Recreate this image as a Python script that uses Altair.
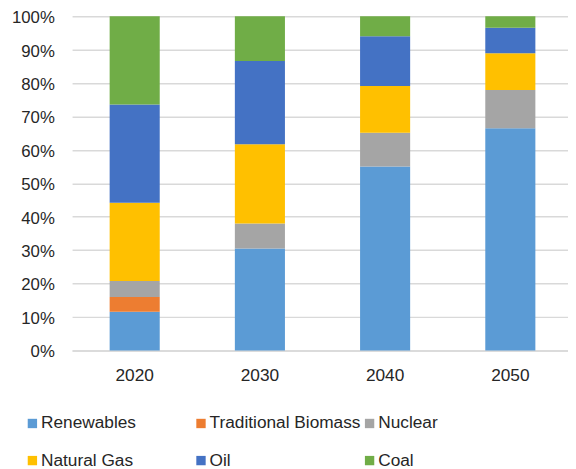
import altair as alt
import pandas as pd

years = ["2020", "2030", "2040", "2050"]
sources = ["Renewables", "Traditional Biomass", "Nuclear", "Natural Gas", "Oil", "Coal"]
colors = ["#5B9BD5", "#ED7D31", "#A5A5A5", "#FFC000", "#4472C4", "#70AD47"]

renewables = [11.6, 30.5, 55.0, 66.5]
biomass = [4.4, 0.0, 0.0, 0.0]
nuclear = [4.8, 7.5, 10.1, 11.4]
natural_gas = [23.4, 23.7, 14.0, 11.0]
oil = [29.4, 24.9, 14.9, 7.6]
coal = [26.4, 13.4, 6.0, 3.5]

series = [renewables, biomass, nuclear, natural_gas, oil, coal]
rows = []
for si, (name, vals) in enumerate(zip(sources, series)):
    for yr, v in zip(years, vals):
        rows.append({"Year": yr, "Source": name, "Share": v / 100.0, "ord": si})
df = pd.DataFrame(rows)

FONT = "Liberation Sans"
TXT = "#262626"

chart = alt.Chart(df).mark_bar().encode(
    x=alt.X("Year:N", sort=years,
            scale=alt.Scale(paddingInner=0.6, paddingOuter=0.3, range=[0, 508]),
            axis=alt.Axis(title=None, labelAngle=0, ticks=False, labelPadding=17,
                          domainColor="#D9D9D9", domainWidth=1.5, labelFontSize=17.5,
                          labelFont=FONT, labelColor=TXT, grid=False)),
    y=alt.Y("Share:Q", stack="zero",
            scale=alt.Scale(domain=[0, 1], nice=False),
            axis=alt.Axis(title=None, values=[i / 10 for i in range(11)], format=".0%",
                          ticks=False, domain=False, labelPadding=18, labelOffset=1.5,
                          gridColor="#D9D9D9", gridWidth=1.5, labelFontSize=17,
                          labelFont=FONT, labelColor=TXT)),
    color=alt.Color("Source:N", sort=sources,
                    scale=alt.Scale(domain=sources, range=colors),
                    legend=alt.Legend(title=None, orient="none", direction="horizontal",
                                      legendX=-49, legendY=404,
                                      columns=3, gridAlign="all", columnPadding=0,
                                      rowPadding=19, symbolType="square", symbolSize=90,
                                      symbolStrokeWidth=0, labelFontSize=17.5, labelFont=FONT,
                                      labelColor=TXT, labelOffset=0, labelLimit=300)),
    order=alt.Order("ord:Q", sort="ascending"),
).properties(
    width=503, height=339,
    padding={"left": 65, "top": 5, "right": 0, "bottom": 117},
    autosize=alt.AutoSizeParams(type="none"),
).configure_view(stroke=None)

chart.save("out.html", embed_options={"renderer": "svg", "actions": False})
